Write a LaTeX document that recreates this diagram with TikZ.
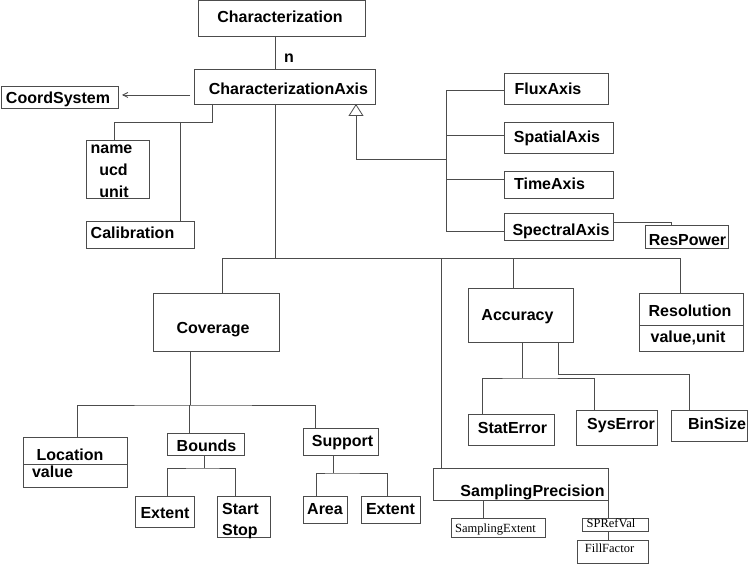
\documentclass[tikz,border=0pt]{standalone}
\usepackage{fontspec}
\setmainfont{Liberation Sans}
\newfontfamily\smallserif{Liberation Serif}
\usetikzlibrary{arrows.meta,calc}
\newcommand\ubox[5]{\node[box, minimum width={(#4-#2)*1pt}, minimum height={(#5-#3)*1pt}] (#1) at ({(#2+#4)/2},{(#3+#5)/2}) {};}
\begin{document}
\begin{tikzpicture}[x=1pt,y=-1pt,
  box/.style={draw=black!70, line width=0.8pt, inner sep=0pt, outer sep=0pt, rectangle},
  lbl/.style={anchor=base, inner sep=0pt, font=\fontsize{16}{19}\selectfont\bfseries, text=black},
  slbl/.style={anchor=base, inner sep=0pt, font=\smallserif\fontsize{12.5}{15}\selectfont, text=black},
  conn/.style={draw=black!70, line width=0.8pt}]
\useasboundingbox[fill=white] (0,0) rectangle (752,564);
% boxes
\ubox{char}{198}{0.5}{365}{36}
\ubox{ca}{194}{69}{375}{104}
\ubox{cs}{1}{86}{118}{108}
\ubox{nm}{86}{140}{149}{198}
\ubox{cal}{86}{221}{194}{248}
\ubox{flux}{504}{73}{608}{104}
\ubox{spat}{504}{122}{613}{153}
\ubox{time}{504}{171}{613}{198}
\ubox{spec}{504}{213}{613}{240}
\ubox{rp}{645}{225}{728}{248}
\ubox{cov}{153}{293}{279}{351}
\ubox{acc}{468}{288}{573}{342}
\ubox{res}{639}{293}{743}{351}
\ubox{stat}{468}{414}{554}{445}
\ubox{sys}{576}{410}{657}{445}
\ubox{bin}{671}{410}{747}{441}
\ubox{loc}{23}{437}{127}{487}
\ubox{bnd}{167}{433}{244}{455}
\ubox{ext1}{135}{496}{194}{527}
\ubox{ss}{217}{496}{270}{537}
\ubox{sup}{303}{428}{378}{455}
\ubox{area}{303}{496}{347}{523}
\ubox{ext2}{361}{496}{420}{523}
\ubox{sp}{433}{468}{608}{500}
\ubox{se}{451}{518}{545}{537}
\ubox{spr}{582}{518}{648}{531}
\ubox{ff}{577}{540}{648}{563}
% dividers
\draw[conn] ([yshift=-2pt]loc.west) -- ([yshift=-2pt]loc.east);
\draw[conn] ([yshift=-3pt]res.west) -- ([yshift=-3pt]res.east);
% junction coordinates
\coordinate (jM) at (275,258);
\coordinate (jA) at (212,122);
\coordinate (jC) at (180,122);
\coordinate (jL) at (222,258);
\coordinate (jR) at (680,258);
\coordinate (jI) at (356,159);
\coordinate (jS) at (446,159);
\coordinate (jCov) at (190,405);
\coordinate (jB) at (204,468);
\coordinate (jSu) at (333,473);
\coordinate (jAc) at (522,378);
\coordinate (jAb) at (558,374);
% connectors
\draw[conn] (char.south -| jM) -- (ca.north -| jM);
\draw[conn, -{Straight Barb[length=5pt,width=5pt]}] ([shift={(-4pt,2pt)}]ca.west |- cs.east) -- ([shift={(4pt,2pt)}]cs.east);
\draw[conn] (ca.south -| jA) -- (jA) -| ([xshift=-3.5pt]nm.north);
\draw[conn] (jC) -- (cal.north -| jC);
\draw[conn] (ca.south -| jM) -- (jM);
\draw[conn] (cov.north -| jL) -- (jL) -- (jR) -- (res.north -| jR);
\draw[conn] ([xshift=-7.5pt]acc.north) -- ([xshift=-7.5pt]acc.north |- jM);
\draw[conn] ([xshift=-79.5pt]sp.north) -- ([xshift=-79.5pt]sp.north |- jM);
\draw[conn, -{Triangle[open,length=12pt,width=15pt]}] (jI) -- (ca.south -| jI);
\draw[conn] (jI) -- (jS);
\draw[conn] ([yshift=-1.5pt]flux.west) -| ([yshift=-4.5pt]spec.west -| jS) -- ([yshift=-4.5pt]spec.west);
\draw[conn] ([yshift=2.5pt]spat.west) -- ([yshift=2.5pt]spat.west -| jS);
\draw[conn] ([yshift=5.5pt]time.west) -- ([yshift=5.5pt]time.west -| jS);
\draw[conn] ([yshift=4.5pt]spec.east) -| ([xshift=-15.5pt]rp.north);
\draw[conn] ([xshift=-26pt]cov.south) -- (jCov);
\draw[conn] ([xshift=2pt]loc.north) |- (jCov) -| ([xshift=-25.5pt]sup.north);
\draw[conn] ([xshift=-16.5pt]bnd.north) -- ([xshift=-16.5pt]bnd.north |- jCov);
\draw[conn] (bnd.south -| jB) -- (jB);
\draw[conn] ([xshift=2.5pt]ext1.north) |- (jB) -| ([xshift=-8.5pt]ss.north);
\draw[conn] (sup.south -| jSu) -- (jSu);
\draw[conn] ([xshift=-9pt]area.north) |- (jSu) -| ([xshift=-3.5pt]ext2.north);
\draw[conn] (acc.south -| jAc) -- (jAc);
\draw[conn] ([xshift=-29pt]stat.north) |- (jAc) -| ([xshift=-22.5pt]sys.north);
\draw[conn] (acc.south -| jAb) -- (jAb) -| ([xshift=-20pt]bin.north);
\draw[conn] ([xshift=-37.5pt]sp.south) -- ([xshift=-37.5pt]sp.south |- se.north);
\draw[conn] (sp.south east) -- (sp.south east |- spr.north);
\draw[conn] (spr.south -| sp.east) -- (ff.north -| sp.east);
% labels
\node[lbl] (char-t) at (280,23) {Characterization};
\node[lbl] (n-t) at (289,63) {n};
\node[lbl] (ca-t) at (288.5,95) {CharacterizationAxis};
\node[lbl] (cs-t) at (58,104) {CoordSystem};
\node[lbl] (nm-a) at (111.5,154) {name};
\node[lbl] (nm-b) at (113.5,176) {ucd};
\node[lbl] (nm-c) at (114,198) {unit};
\node[lbl] (cal-t) at (132.5,238) {Calibration};
\node[lbl] (flux-t) at (548,95) {FluxAxis};
\node[lbl] (spat-t) at (557,143) {SpatialAxis};
\node[lbl] (time-t) at (549.5,190) {TimeAxis};
\node[lbl] (spec-t) at (561,235) {SpectralAxis};
\node[lbl] (rp-t) at (687.5,245) {ResPower};
\node[lbl] (cov-t) at (213,333) {Coverage};
\node[lbl] (acc-t) at (517.5,320) {Accuracy};
\node[lbl] (res-t) at (690,316) {Resolution};
\node[lbl] (res-v) at (688,342) {value,unit};
\node[lbl] (stat-t) at (512.5,433) {StatError};
\node[lbl] (sys-t) at (621,429) {SysError};
\node[lbl] (bin-t) at (717,429) {BinSize};
\node[lbl] (loc-t) at (70,460) {Location};
\node[lbl] (loc-v) at (52.5,477) {value};
\node[lbl] (bnd-t) at (206.5,451) {Bounds};
\node[lbl] (sup-t) at (342.5,446) {Support};
\node[lbl] (ext1-t) at (165,518) {Extent};
\node[lbl, anchor=base west] (ss-a) at (222,514) {Start};
\node[lbl, anchor=base west] (ss-b) at (222,535) {Stop};
\node[lbl] (area-t) at (325,514) {Area};
\node[lbl] (ext2-t) at (390.5,514) {Extent};
\node[lbl] (sp-t) at (532.5,496) {SamplingPrecision};
\node[slbl] (se-t) at (495.5,532) {SamplingExtent};
\node[slbl] (spr-t) at (611,527) {SPRefVal};
\node[slbl] (ff-t) at (609.5,552) {FillFactor};
\end{tikzpicture}
\end{document}
